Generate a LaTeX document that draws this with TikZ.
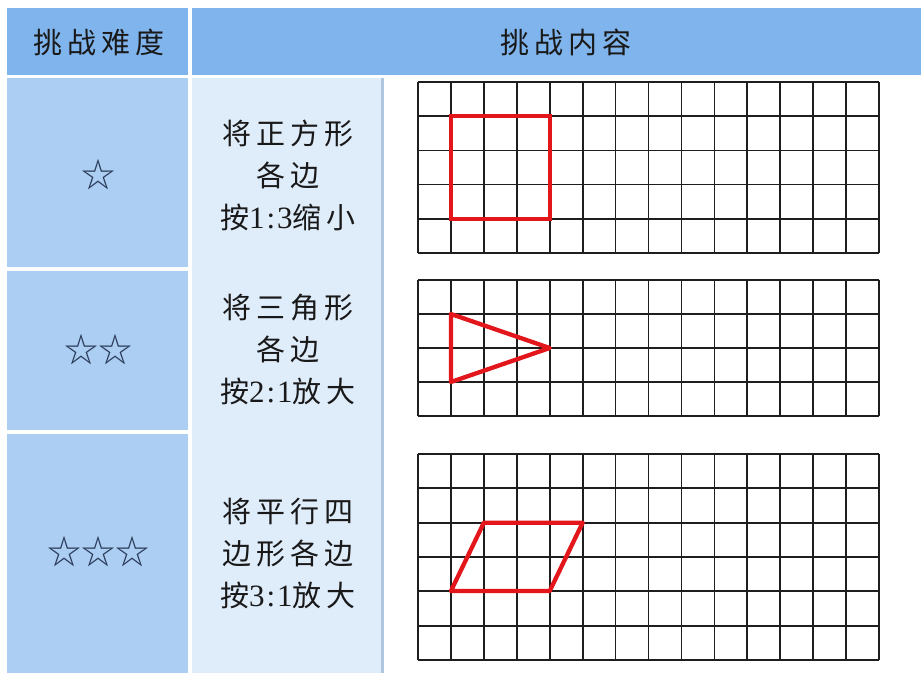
\documentclass[tikz,border=0pt]{standalone}
\usepackage{fontspec}
\newfontfamily\cjk[LetterSpace=18]{Noto Sans CJK SC}
\newfontfamily\cjkstar{Noto Sans CJK SC}
\newfontfamily\lat[LetterSpace=6]{Liberation Serif}
\newcommand{\dg}[1]{{\lat\fontsize{31}{42}\selectfont #1}}
\definecolor{hdr}{HTML}{80B4EC}
\definecolor{lft}{HTML}{ABCEF2}
\definecolor{mid}{HTML}{DFECFA}
\definecolor{sep}{HTML}{B0C6DE}
\definecolor{gridc}{HTML}{1E1E1E}
\definecolor{redc}{HTML}{E2161B}
\definecolor{starc}{HTML}{2A3A58}
\tikzset{
  cell/.style={draw=none},
  txt/.style={font=\cjk\fontsize{29}{42}\selectfont, text=black!90, align=center, inner sep=0pt},
  starn/.style={font=\cjkstar\fontsize{34}{38}\selectfont, text=starc, inner sep=0pt},
  gridline/.style={draw=gridc, line width=1.7pt},
  redshape/.style={draw=redc, line width=4.3pt, line join=miter},
}
\begin{document}
\begin{tikzpicture}[x=1pt,y=-1pt]
\useasboundingbox (0,0) rectangle (921,673);
\fill[white] (0,0) rectangle (921,673);
% header
\fill[hdr] (7,8) rectangle (188,75);
\fill[hdr] (192,8) rectangle (921,75);
% left column
\fill[lft] (7,78) rectangle (188,267);
\fill[lft] (7,271) rectangle (188,430);
\fill[lft] (7,434) rectangle (188,673);
% middle column
\fill[mid] (192,78) rectangle (381,673);
\fill[sep] (381,78) rectangle (383.5,673);
% header texts
\node[txt] (h1) at (99,42) {挑战难度};
\node[txt] (h2) at (566,42) {挑战内容};
% stars
\node[starn] (s1) at (98,175) {☆};
\node[starn] (s2) at (98,350) {☆☆};
\node[starn] (s3) at (98,552) {☆☆☆};
% middle texts
\node[txt] (t1) at (288,175) {将正方形\\各边\\按\dg{1:3}缩小};
\node[txt] (t2) at (288,349) {将三角形\\各边\\按\dg{2:1}放大};
\node[txt] (t3) at (288,553) {将平行四\\边形各边\\按\dg{3:1}放大};
% grid 1
\foreach \i in {0,...,14} \draw[gridline] ({418+\i*32.93},82) -- ({418+\i*32.93},253);
\foreach \j in {0,...,5} \draw[gridline] (418,{82+\j*34.2}) -- (879,{82+\j*34.2});
% grid 2
\foreach \i in {0,...,14} \draw[gridline] ({418+\i*32.93},280) -- ({418+\i*32.93},416);
\foreach \j in {0,...,4} \draw[gridline] (418,{280+\j*34}) -- (879,{280+\j*34});
% grid 3
\foreach \i in {0,...,14} \draw[gridline] ({418+\i*32.93},454) -- ({418+\i*32.93},660);
\foreach \j in {0,...,6} \draw[gridline] (418,{454+\j*34.33}) -- (879,{454+\j*34.33});
% red shapes
\draw[redshape] (450.93,116.2) rectangle (549.72,218.8);
\draw[redshape, line join=round] (450.93,314) -- (450.93,382) -- (549.72,348) -- cycle;
\draw[redshape, line join=round] (450.93,591) -- (549.72,591) -- (582.65,522.66) -- (483.86,522.66) -- cycle;
\end{tikzpicture}
\end{document}
